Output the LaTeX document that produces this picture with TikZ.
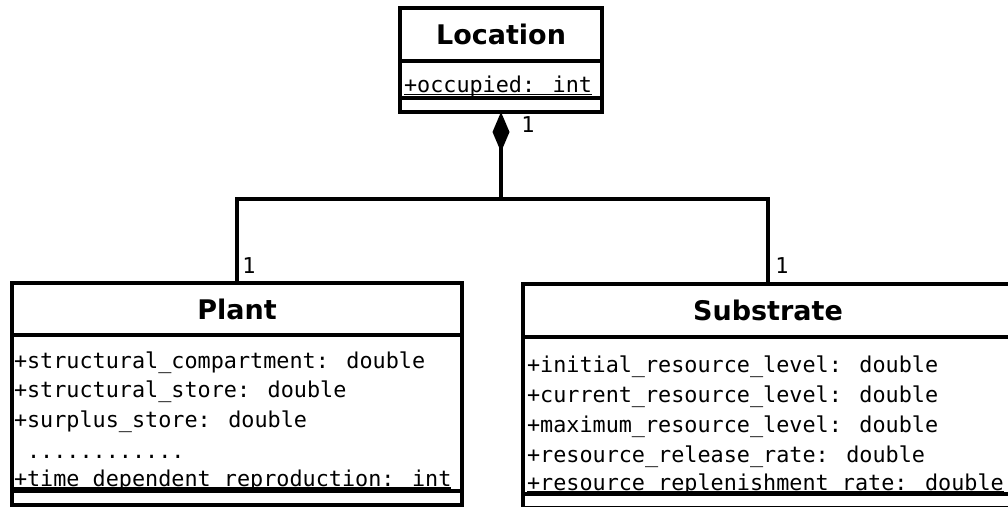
\documentclass[tikz,border=0pt]{standalone}
\usepackage{fontspec}
\setmainfont{DejaVu Sans}
\newfontfamily\monof{DejaVu Sans Mono}
\usetikzlibrary{arrows.meta}
\begin{document}
\begin{tikzpicture}[x=1pt,y=-1pt,
  compart/.style={draw=black, line width=3.4pt, inner sep=0pt, outer sep=0pt, anchor=north west},
  title/.style={font=\bfseries\fontsize{27}{30}\selectfont},
  attr/.style={anchor=base west, inner sep=0pt, outer sep=0pt, font=\monof\fontsize{21.8}{26}\selectfont},
  mult/.style={inner sep=0pt, font=\monof\fontsize{21.8}{26}\selectfont},
  conn/.style={draw=black, line width=3.4pt},
  uline/.style={draw=black, line width=1.6pt}
]
\useasboundingbox (0,0) rectangle (1008,506);
\clip (0,0) rectangle (1008,506);

% Location
\node[compart, title, minimum width=202pt, minimum height=53pt] (locH) at (400,8) {Location};
\node[compart, minimum width=202pt, minimum height=37pt] (locA) at (400,61) {};
\node[compart, minimum width=202pt, minimum height=14pt] (locO) at (400,98) {};
\node[attr] (lo1) at (404,92.5) {+occupied: int};
\draw[uline] ([yshift=-2pt]lo1.base west) -- ([yshift=-2pt]lo1.base east);

% Plant
\node[compart, title, minimum width=450pt, minimum height=52pt] (plH) at (12,283) {Plant};
\node[compart, minimum width=450pt, minimum height=156pt] (plA) at (12,335) {};
\node[compart, minimum width=450pt, minimum height=14pt] (plO) at (12,491) {};
\node[attr] (pa1) at (14,368) {+structural\_compartment: double};
\node[attr] (pa2) at (14,397.5) {+structural\_store: double};
\node[attr] (pa3) at (14,427) {+surplus\_store: double};
\node[attr] (pa4) at (14,458) {\phantom{+}............};
\node[attr] (pa5) at (14,486) {+time\_dependent\_reproduction: int};
\draw[uline] ([yshift=-2pt]pa5.base west) -- ([yshift=-2pt]pa5.base east);

% Substrate
\node[compart, title, minimum width=490pt, minimum height=53pt] (suH) at (523,284) {Substrate};
\node[compart, minimum width=490pt, minimum height=157pt] (suA) at (523,337) {};
\node[compart, minimum width=490pt, minimum height=14pt] (suO) at (523,494) {};
\node[attr] (sa1) at (527,372) {+initial\_resource\_level: double};
\node[attr] (sa2) at (527,402) {+current\_resource\_level: double};
\node[attr] (sa3) at (527,432) {+maximum\_resource\_level: double};
\node[attr] (sa4) at (527,462) {+resource\_release\_rate: double};
\node[attr] (sa5) at (527,490) {+resource\_replenishment\_rate: double};
\draw[uline] ([yshift=-2pt]sa5.base west) -- ([yshift=-2pt]sa5.base east);

% Composition connector
\coordinate (j) at (501,199);
\draw[conn, {Diamond[length=40pt, width=17pt]}-] (locO.south) -- (j);
\draw[conn] (plH.north) |- (j) -| (suH.north);

% Multiplicities
\node[mult] (m0) at (528,125) {1};
\node[mult] (m1) at (249,266) {1};
\node[mult] (m2) at (782,266) {1};
\end{tikzpicture}
\end{document}
